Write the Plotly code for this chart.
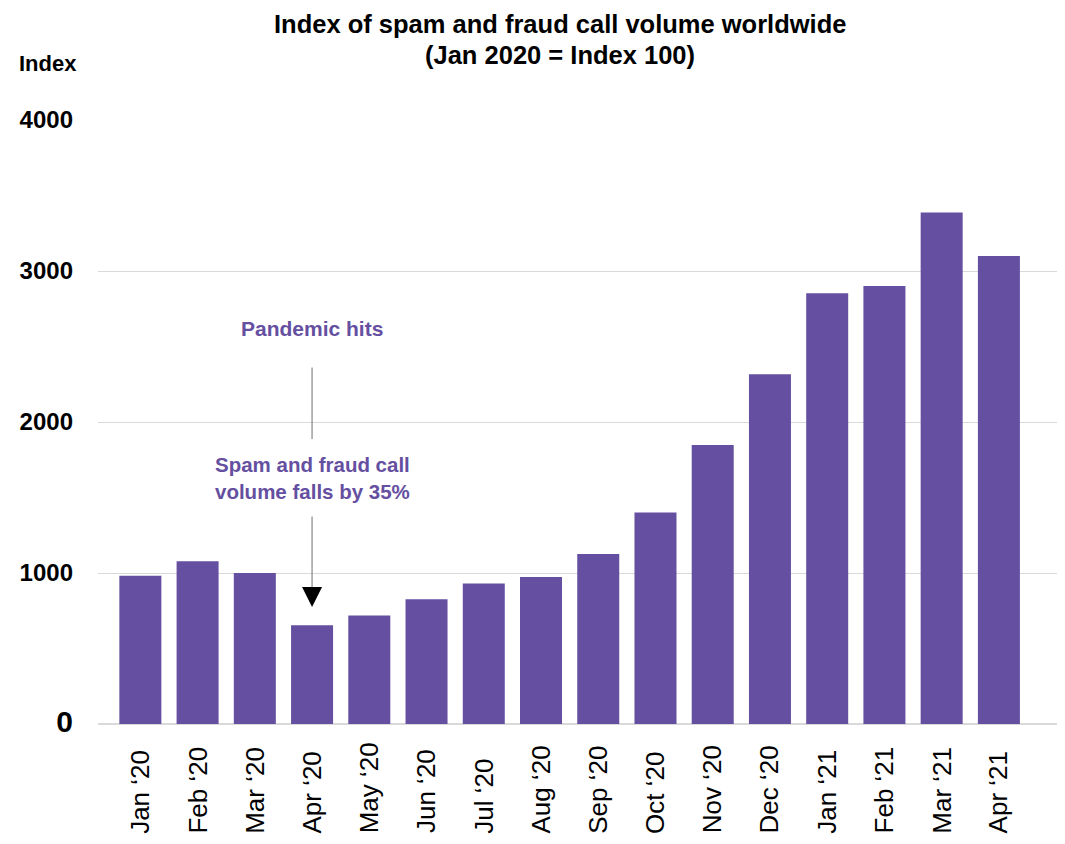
import plotly.graph_objects as go

months = ["Jan \u201820", "Feb \u201820", "Mar \u201820", "Apr \u201820", "May \u201820", "Jun \u201820",
          "Jul \u201820", "Aug \u201820", "Sep \u201820", "Oct \u201820", "Nov \u201820", "Dec \u201820",
          "Jan \u201821", "Feb \u201821", "Mar \u201821", "Apr \u201821"]
index_values = [982, 1078, 1000, 654, 719, 826, 931, 974, 1126, 1400, 1848, 2316, 2853, 2900, 3388, 3100]

y_ticks = [0, 1000, 2000, 3000, 4000]
y_ticktext = ['<span style="font-size:30px">0</span>', "1000", "2000", "3000", "4000"]

title_lines = ["Index of spam and fraud call volume worldwide", "(Jan 2020 = Index 100)"]

PURPLE = "#654FA0"
FONT = "Arial, Liberation Sans, sans-serif"

fig = go.Figure(go.Bar(
    x=months,
    y=index_values,
    marker=dict(color=PURPLE, line=dict(width=0)),
))

fig.update_layout(
    width=1065,
    height=844,
    margin=dict(l=90, r=14, t=112, b=128),
    paper_bgcolor="white",
    plot_bgcolor="white",
    font=dict(family=FONT, color="black"),
    bargap=0.266,
    showlegend=False,
)

# two-line title, each line placed on its own
title_x = (0.518 * 1065 - 90) / 961
for line, ypos in zip(title_lines, [1.1595, 1.1076]):
    fig.add_annotation(text="<b>" + line + "</b>", xref="paper", yref="paper",
                       x=title_x, y=ypos, xanchor="center", yanchor="middle",
                       showarrow=False, borderpad=0, font=dict(size=25.5, color="black"))

fig.update_xaxes(
    type="category",
    range=[-0.74, 16.05],
    showticklabels=False,
    showgrid=False,
    showline=False,
    zeroline=False,
)

fig.update_yaxes(
    range=[0, 4000],
    tickvals=y_ticks,
    ticktext=y_ticktext,
    tickfont=dict(size=24, weight="bold", color="black"),
    ticklabelstandoff=24,
    showgrid=True,
    gridcolor="#d9d9d9",
    gridwidth=1,
    zeroline=True,
    zerolinecolor="#d9d9d9",
    zerolinewidth=1.5,
    showline=False,
)

# month labels: rotated, all starting from the same baseline like the original
for m in months:
    fig.add_annotation(text=m, x=m, xref="x", y=-0.1846, yref="paper",
                       textangle=-90, xanchor="center", yanchor="bottom",
                       showarrow=False, font=dict(size=26, color="black"))

# axis title "Index" sits above the tick labels
fig.add_annotation(text="<b>Index</b>", xref="paper", yref="paper", x=-0.0843, y=1.094,
                   xanchor="left", yanchor="middle", showarrow=False,
                   font=dict(size=22, color="black"))

apr = months.index("Apr \u201820")

fig.add_annotation(text="<b>Pandemic hits</b>", x=apr, y=2616, showarrow=False,
                   font=dict(size=21, color=PURPLE))
fig.add_annotation(text="<b>Spam and fraud call<br>volume falls by 35%</b>", x=apr, y=1626,
                   showarrow=False, font=dict(size=20.5, color=PURPLE))

# connector lines and arrow head
fig.add_annotation(text="", x=apr, y=1887, ax=0, ay=-73, showarrow=True,
                   arrowhead=0, arrowwidth=1, arrowcolor="#707070")
fig.add_annotation(text="", x=apr, y=874, ax=0, ay=-77, showarrow=True,
                   arrowhead=0, arrowwidth=1, arrowcolor="#707070")
fig.add_annotation(text="", x=apr, y=775, ax=0, ay=-20, showarrow=True,
                   arrowhead=2, arrowsize=4, arrowwidth=1, arrowcolor="black")

fig.write_html("out.html")
